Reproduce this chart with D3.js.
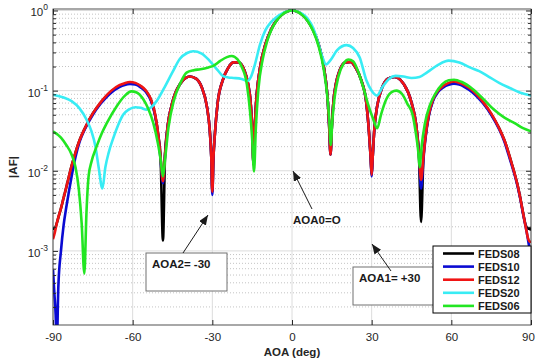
<!DOCTYPE html>
<html>
<head>
<meta charset="utf-8">
<script src="https://cdn.jsdelivr.net/npm/d3@7"></script>
<style>
  body { margin: 0; background: #fff; }
  svg { font-family: Arial, "Liberation Sans", Helvetica, sans-serif; }
</style>
</head>
<body>
<div id="chart"></div>
<script>
// angle grid shared by FEDS08 / FEDS10 / FEDS12 (they only differ at nulls and edges)
const aoaUni = [-90,-89.5,-89,-88.6,-88,-87,-86,-85,-84,-83,-81.5,-80,-78,-75,-72,-70,-68,-65,-63,-61,
  -59,-57,-55,-53,-51.5,-50.3,-49.5,-48.6,-47.8,-47,-45,-42,-40,-38.5,-36,-34,-32,-31,-30.4,-30,
  -29.6,-29,-28,-26,-24,-22,-20,-18,-16.5,-15.5,-15,-14.5,-14,-13.5,-12,-10,-8,-6,-4,-2,
  0,2,4,6,8,10,12,13.5,14,14.5,15,15.5,16.5,18,20,22,24,26,28,29,29.6,
  30,30.4,31,32,34,36,38.5,40,42,45,47,47.8,48.6,49.5,50.3,51.5,53,55,57,59,
  61,63,65,68,70,72,75,78,80,81.5,83,84,85,86,87,88,89,89.5,90];

const feds08 = [.0019,.0019,.0020,.0022,.0026,.0034,.0046,.0062,.0085,.0115,.017,.024,.034,.052,.071,.085,.098,.114,.121,.125,
  .122,.113,.098,.075,.049,.027,.015,.00135,.016,.032,.072,.123,.144,.150,.140,.110,.062,.033,.015,.0055,
  .014,.030,.070,.137,.193,.225,.224,.181,.120,.066,.035,.012,.036,.072,.196,.380,.567,.740,.879,.969,
  1.0,.969,.879,.740,.567,.380,.196,.072,.036,.016,.035,.066,.120,.181,.224,.228,.193,.137,.070,.030,.015,
  .0089,.015,.033,.062,.110,.140,.148,.143,.122,.071,.032,.016,.0023,.015,.027,.049,.075,.098,.113,.122,
  .126,.122,.114,.098,.085,.071,.051,.034,.024,.017,.0115,.0088,.0065,.0045,.0030,.0021,.0019,.0019,.0018];

const feds10 = [.00058,.0003,.00016,.00006,.00035,.0010,.0021,.0035,.0055,.0085,.015,.023,.033,.050,.069,.082,.095,.111,.118,.121,
  .119,.110,.096,.073,.048,.026,.014,.0070,.016,.032,.072,.123,.144,.150,.140,.110,.062,.033,.015,.0050,
  .014,.030,.070,.137,.193,.225,.224,.181,.120,.066,.035,.012,.036,.072,.196,.380,.567,.740,.879,.969,
  1.0,.969,.879,.740,.567,.380,.196,.072,.036,.016,.035,.066,.120,.181,.224,.228,.193,.137,.070,.030,.015,
  .0085,.015,.033,.062,.110,.140,.148,.143,.122,.071,.032,.016,.0060,.014,.026,.048,.073,.096,.110,.118,
  .122,.119,.111,.095,.082,.069,.050,.033,.023,.016,.011,.0085,.0063,.0044,.0029,.0020,.0013,.0010,.0006];

const feds12 = [.0014,.0016,.0019,.0022,.0026,.0034,.0046,.0062,.0085,.0115,.017,.024,.034,.052,.072,.086,.100,.117,.124,.128,
  .125,.115,.100,.076,.050,.027,.015,.0074,.016,.032,.072,.123,.144,.150,.140,.110,.062,.033,.015,.0055,
  .014,.030,.070,.137,.193,.225,.224,.181,.120,.066,.035,.012,.036,.072,.196,.380,.567,.740,.879,.969,
  1.0,.969,.879,.740,.567,.380,.196,.072,.036,.016,.035,.066,.120,.181,.224,.228,.193,.137,.070,.030,.015,
  .0089,.015,.033,.062,.110,.140,.148,.143,.122,.071,.032,.016,.0077,.015,.027,.050,.076,.100,.115,.125,
  .130,.125,.117,.100,.086,.072,.052,.034,.024,.017,.0115,.0088,.0065,.0045,.0030,.0020,.0014,.0013,.0013];

const aoa20 = [-90,-86,-83,-80,-77.3,-75.5,-74,-72.8,-71.4,-70.3,-69,-67.4,-65.5,-63.6,-61.5,-59,-57,-54.7,-53,-51,
  -48,-45,-42.2,-39.5,-37.2,-34,-31,-28,-26,-24,-22,-19,-16.8,-15.4,-14,-12,-10,-8,-6,-4,
  -2,0,2,4,6,8,10,11.5,12.8,14.5,17,20.6,23,25.5,28,30,32,34,36.5,39,
  42,45,48,51,55,59,63,67,70.5,74,78,82,86,90];
const feds20 = [.089,.082,.074,.060,.043,.031,.020,.011,.006,.011,.017,.025,.037,.050,.058,.062,.061,.058,.062,.074,
  .110,.170,.250,.295,.310,.290,.235,.180,.152,.146,.144,.140,.132,.150,.210,.38,.57,.71,.82,.91,
  .975,1.0,.975,.90,.78,.60,.38,.26,.212,.24,.32,.37,.34,.26,.135,.10,.087,.11,.14,.153,
  .150,.144,.148,.170,.210,.237,.225,.195,.175,.150,.125,.108,.094,.087];

const aoa06 = [-90,-87,-85,-83,-81.5,-80.3,-79.2,-78.2,-77.4,-76.6,-75.5,-73.6,-71.5,-69.8,-66,-63,-60.5,-58.5,-56,-54,
  -52.2,-50.5,-49.5,-48.6,-47.7,-46.5,-44.5,-42,-39.7,-37,-34.5,-31.5,-29.5,-27,-24.5,-22.7,-20.5,-19,-17,-15.8,
  -15,-14.3,-13.6,-12.7,-11,-9.5,-8,-6,-4,-2,0,2,4,6,8,10,12,13.3,14,14.6,
  15.2,16,17.5,19.5,21.3,23,25,27,28.5,30.5,32.1,33.5,35.5,37.5,39.3,41.5,43.5,45.4,46.6,47.5,
  48.1,48.8,50,52,54,56.5,59,61,64,68,72,76,80,84,87,90];
const feds06 = [.031,.026,.021,.016,.011,.006,.0022,.00052,.003,.0085,.013,.020,.030,.039,.064,.086,.098,.095,.078,.058,
  .039,.022,.014,.0085,.015,.035,.075,.125,.168,.180,.185,.195,.205,.235,.262,.270,.245,.200,.120,.055,
  .025,.0098,.035,.10,.25,.40,.55,.73,.87,.965,1.0,.965,.87,.73,.55,.36,.18,.085,.045,.021,
  .042,.080,.150,.220,.245,.232,.170,.105,.070,.045,.034,.050,.078,.096,.100,.090,.068,.050,.030,.018,
  .011,.020,.038,.067,.092,.120,.135,.137,.128,.105,.079,.058,.046,.039,.034,.031];

const xTicks = [-90, -60, -30, 0, 30, 60, 90];
const yTickExp = [0, -1, -2, -3];
const seriesNames = ['FEDS08', 'FEDS10', 'FEDS12', 'FEDS20', 'FEDS06'];
const seriesColors = ['#000000', '#0a0ad2', '#f01414', '#38ecf4', '#22e622'];

const width = 536, height = 360;
const margin = {top: 9, right: 5, bottom: 35, left: 53};
const textColor = '#262626';

const svg = d3.select('#chart').append('svg')
  .attr('width', width)
  .attr('height', height);

const x = d3.scaleLinear().domain([-90, 90]).range([margin.left, width - margin.right]);
const y = d3.scaleLog().domain([1.19e-4, 1.044]).range([height - margin.bottom, margin.top]);

const x0 = x.range()[0], x1 = x.range()[1];
const y0 = y.range()[0], y1 = y.range()[1];

// grid: dotted minor (log), solid major
const logTicks = y.ticks();
const isMajor = v => Math.abs(Math.log10(v) - Math.round(Math.log10(v))) < 1e-6;

svg.append('g').selectAll('line')
  .data(logTicks.filter(v => !isMajor(v)))
  .join('line')
  .attr('x1', x0).attr('x2', x1)
  .attr('y1', d => y(d)).attr('y2', d => y(d))
  .attr('stroke', '#c4c4c4')
  .attr('stroke-dasharray', '1,2');

svg.append('g').selectAll('line')
  .data(yTickExp)
  .join('line')
  .attr('x1', x0).attr('x2', x1)
  .attr('y1', d => y(Math.pow(10, d))).attr('y2', d => y(Math.pow(10, d)))
  .attr('stroke', '#dcdcdc');

svg.append('g').selectAll('line')
  .data(xTicks)
  .join('line')
  .attr('x1', d => x(d)).attr('x2', d => x(d))
  .attr('y1', y0).attr('y2', y1)
  .attr('stroke', '#dcdcdc');

// curves
svg.append('defs').append('clipPath').attr('id', 'clip')
  .append('rect')
  .attr('x', x0).attr('y', y1)
  .attr('width', x1 - x0).attr('height', y0 - y1);

const series = [
  {aoa: aoaUni, af: feds08},
  {aoa: aoaUni, af: feds10},
  {aoa: aoaUni, af: feds12},
  {aoa: aoa20, af: feds20},
  {aoa: aoa06, af: feds06}
].map((s, i) => ({name: seriesNames[i], color: seriesColors[i], points: d3.zip(s.aoa, s.af)}));

const line = d3.line()
  .x(d => x(d[0]))
  .y(d => y(d[1]))
  .curve(d3.curveMonotoneX);

svg.append('g')
  .attr('clip-path', 'url(#clip)')
  .selectAll('path')
  .data(series)
  .join('path')
  .attr('d', d => line(d.points))
  .attr('fill', 'none')
  .attr('stroke', d => d.color)
  .attr('stroke-width', 2.6)
  .attr('stroke-linejoin', 'round');

// axes with inward ticks (matlab style)
const xAxis = svg.append('g')
  .attr('transform', `translate(0,${y0})`)
  .call(d3.axisBottom(x).tickValues(xTicks).tickFormat(d => String(d)).tickSize(-5).tickSizeOuter(0).tickPadding(8));
xAxis.select('.domain').remove();
xAxis.selectAll('line').attr('stroke', textColor);
xAxis.selectAll('text')
  .attr('fill', textColor)
  .style('font-size', '11.5px')
  .attr('dx', d => d === 90 ? -3 : 0);

svg.append('g')
  .attr('transform', `translate(0,${y1})`)
  .call(d3.axisTop(x).tickValues(xTicks).tickFormat('').tickSize(-5).tickSizeOuter(0))
  .call(g => g.select('.domain').remove())
  .selectAll('line').attr('stroke', textColor);

[[x0, d3.axisLeft], [x1, d3.axisRight]].forEach(([pos, ax]) => {
  svg.append('g')
    .attr('transform', `translate(${pos},0)`)
    .call(ax(y).tickValues(logTicks).tickFormat('').tickSize(-3).tickSizeOuter(0))
    .call(g => g.select('.domain').remove())
    .call(g => g.selectAll('.tick line')
      .attr('stroke', textColor)
      .attr('x2', d => (isMajor(d) ? 5 : 3) * (pos === x0 ? 1 : -1)));
});

// y tick labels 10^n
const yLabels = svg.append('g')
  .selectAll('text')
  .data(yTickExp)
  .join('text')
  .attr('x', x0 - 5)
  .attr('y', d => y(Math.pow(10, d)) + 6)
  .attr('text-anchor', 'end')
  .attr('fill', textColor)
  .style('font-size', '11.5px');
yLabels.append('tspan').text('10');
yLabels.append('tspan').attr('dy', -6).style('font-size', '8.5px').text(d => d);

svg.append('rect')
  .attr('x', x0).attr('y', y1)
  .attr('width', x1 - x0).attr('height', y0 - y1)
  .attr('fill', 'none')
  .attr('stroke', textColor)
  .attr('stroke-width', 0.8);

// axis titles
svg.append('text')
  .attr('x', (x0 + x1) / 2)
  .attr('y', 356)
  .attr('text-anchor', 'middle')
  .attr('fill', textColor)
  .style('font-size', '11.5px')
  .style('font-weight', 'bold')
  .text('AOA (deg)');

svg.append('text')
  .attr('transform', `translate(17,${(y0 + y1) / 2}) rotate(-90)`)
  .attr('text-anchor', 'middle')
  .attr('fill', textColor)
  .style('font-size', '11.5px')
  .style('font-weight', 'bold')
  .text('|AF|');

// annotations
svg.select('defs').append('marker')
  .attr('id', 'head')
  .attr('markerUnits', 'userSpaceOnUse')
  .attr('viewBox', '0 0 10 8')
  .attr('refX', 10).attr('refY', 4)
  .attr('markerWidth', 10).attr('markerHeight', 8)
  .attr('orient', 'auto')
  .append('path')
  .attr('d', 'M0,0L10,4L0,8z')
  .attr('fill', '#1a1a1a');

const arrow = (xa, ya, xb, yb) => svg.append('line')
  .attr('x1', xa).attr('y1', ya).attr('x2', xb).attr('y2', yb)
  .attr('stroke', '#1a1a1a')
  .attr('stroke-width', 1)
  .attr('marker-end', 'url(#head)');

const label = (tx, ty, str) => svg.append('text')
  .attr('x', tx).attr('y', ty)
  .attr('fill', '#1a1a1a')
  .style('font-size', '11.5px')
  .style('font-weight', 'bold')
  .text(str);

svg.append('rect').attr('x', 146).attr('y', 253).attr('width', 81).attr('height', 38)
  .attr('fill', '#fff').attr('stroke', '#707070');
label(152, 268, 'AOA2= -30');
arrow(183, 253, 208, 215);

svg.append('rect').attr('x', 353).attr('y', 267).attr('width', 92).attr('height', 38)
  .attr('fill', '#fff').attr('stroke', '#707070');
label(359, 282, 'AOA1= +30');
arrow(391, 271, 372, 244);

label(293, 224, 'AOA0=O');
arrow(312, 209, 293, 171);

// legend
const legend = svg.append('g').attr('transform', 'translate(433,246)');
legend.append('rect')
  .attr('width', 98).attr('height', 67)
  .attr('fill', '#fff')
  .attr('stroke', '#000');

const rows = legend.selectAll('g')
  .data(series)
  .join('g')
  .attr('transform', (d, i) => `translate(0,${7.5 + i * 13.1})`);
rows.append('line')
  .attr('x1', 10).attr('x2', 41)
  .attr('stroke', d => d.color)
  .attr('stroke-width', 2.6);
rows.append('text')
  .attr('x', 45).attr('y', 4)
  .attr('fill', '#1a1a1a')
  .style('font-size', '11px')
  .style('font-weight', 'bold')
  .text(d => d.name);
</script>
</body>
</html>
